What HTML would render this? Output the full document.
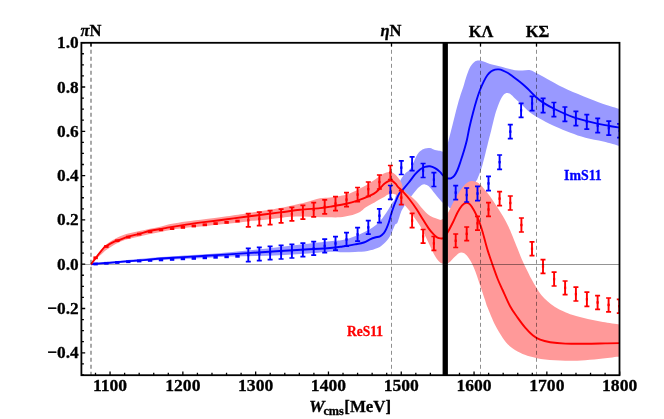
<!DOCTYPE html>
<html><head><meta charset="utf-8"><title>S11 partial wave</title>
<style>
html,body{margin:0;padding:0;background:#fff}
svg{display:block}
text{font-family:"Liberation Serif","DejaVu Serif",serif;font-weight:bold;stroke:#000;stroke-width:0.3px}
</style></head><body>
<svg width="664" height="419" viewBox="0 0 664 419">
<rect width="664" height="419" fill="#fff"/>
<defs><clipPath id="c"><rect x="81.40" y="42.80" width="538.10" height="332.40"/></clipPath></defs>
<g clip-path="url(#c)">
<path d="M90.75 264.00 C95.21 263.50 105.74 262.17 117.50 261.00 C129.26 259.83 146.80 258.13 161.30 257.00 C175.80 255.87 193.05 255.00 204.50 254.20 C215.95 253.40 221.58 252.95 230.00 252.20 C238.42 251.45 246.67 250.57 255.00 249.70 C263.33 248.83 271.67 247.95 280.00 247.00 C288.33 246.05 296.67 244.97 305.00 244.00 C313.33 243.03 323.75 241.87 330.00 241.20 C336.25 240.53 338.33 240.82 342.50 240.00 C346.67 239.18 350.83 237.87 355.00 236.30 C359.17 234.73 363.75 232.68 367.50 230.60 C371.25 228.52 374.78 226.18 377.50 223.80 C380.22 221.42 381.92 218.80 383.80 216.30 C385.68 213.80 387.35 211.10 388.80 208.80 C390.25 206.50 391.57 203.97 392.50 202.50 C393.43 201.03 393.65 201.75 394.40 200.00 C395.15 198.25 396.07 195.12 397.00 192.00 C397.93 188.88 398.67 184.33 400.00 181.30 C401.33 178.27 403.43 175.68 405.00 173.80 C406.57 171.92 408.15 171.47 409.40 170.00 C410.65 168.53 411.35 167.28 412.50 165.00 C413.65 162.72 415.05 158.58 416.30 156.30 C417.55 154.02 418.55 152.60 420.00 151.30 C421.45 150.00 423.33 149.03 425.00 148.50 C426.67 147.97 428.33 147.85 430.00 148.10 C431.67 148.35 433.33 149.55 435.00 150.00 C436.67 150.45 438.67 150.55 440.00 150.80 C441.33 151.05 442.00 151.97 443.00 151.50 C444.00 151.03 445.15 149.58 446.00 148.00 C446.85 146.42 447.02 145.83 448.10 142.00 C449.18 138.17 451.03 130.75 452.50 125.00 C453.97 119.25 455.57 112.50 456.90 107.50 C458.23 102.50 459.47 98.33 460.50 95.00 C461.53 91.67 462.03 90.83 463.10 87.50 C464.17 84.17 465.65 78.53 466.90 75.00 C468.15 71.47 469.35 68.48 470.60 66.30 C471.85 64.12 473.25 62.85 474.40 61.90 C475.55 60.95 476.47 60.82 477.50 60.60 C478.53 60.38 479.35 60.35 480.60 60.60 C481.85 60.85 483.43 61.53 485.00 62.10 C486.57 62.67 488.12 63.42 490.00 64.00 C491.88 64.58 494.22 65.12 496.30 65.60 C498.38 66.08 500.42 66.37 502.50 66.90 C504.58 67.43 506.72 68.23 508.80 68.80 C510.88 69.37 512.72 70.00 515.00 70.30 C517.28 70.60 519.95 70.60 522.50 70.60 C525.05 70.60 527.75 69.77 530.30 70.30 C532.85 70.83 534.83 72.27 537.80 73.80 C540.77 75.33 543.87 77.20 548.10 79.50 C552.33 81.80 557.35 84.80 563.20 87.60 C569.05 90.40 576.52 93.58 583.20 96.30 C589.88 99.02 597.20 101.80 603.30 103.90 C609.40 106.00 617.05 108.07 619.80 108.90 L619.80 146.00 C617.05 145.25 609.03 142.88 603.30 141.50 C597.57 140.12 590.88 139.17 585.40 137.70 C579.92 136.23 575.42 134.57 570.40 132.70 C565.38 130.83 559.90 128.58 555.30 126.50 C550.70 124.42 546.97 122.50 542.80 120.20 C538.63 117.90 534.10 115.55 530.30 112.70 C526.50 109.85 522.55 105.47 520.00 103.10 C517.45 100.73 516.67 100.05 515.00 98.50 C513.33 96.95 511.45 94.70 510.00 93.80 C508.55 92.90 507.55 92.68 506.30 93.10 C505.05 93.52 503.75 94.52 502.50 96.30 C501.25 98.08 500.05 100.68 498.80 103.80 C497.55 106.92 496.25 110.63 495.00 115.00 C493.75 119.37 492.45 125.42 491.30 130.00 C490.15 134.58 489.25 137.92 488.10 142.50 C486.95 147.08 485.53 153.12 484.40 157.50 C483.27 161.88 482.45 165.25 481.30 168.80 C480.15 172.35 478.45 176.60 477.50 178.80 C476.55 181.00 477.68 178.47 475.60 182.00 C473.52 185.53 468.93 195.67 465.00 200.00 C461.07 204.33 454.83 207.00 452.00 208.00 C449.17 209.00 449.17 206.83 448.00 206.00 C446.83 205.17 446.02 203.68 445.00 203.00 C443.98 202.32 443.57 203.43 441.90 201.90 C440.23 200.37 437.18 196.40 435.00 193.80 C432.82 191.20 430.47 187.87 428.80 186.30 C427.13 184.73 426.25 184.57 425.00 184.40 C423.75 184.23 422.75 184.37 421.30 185.30 C419.85 186.23 417.87 188.28 416.30 190.00 C414.73 191.72 413.28 193.93 411.90 195.60 C410.52 197.27 409.35 198.12 408.00 200.00 C406.65 201.88 404.92 205.02 403.80 206.90 C402.68 208.78 402.35 208.70 401.30 211.30 C400.25 213.90 398.55 220.22 397.50 222.50 C396.45 224.78 396.25 222.70 395.00 225.00 C393.75 227.30 391.87 233.17 390.00 236.30 C388.13 239.43 385.88 241.83 383.80 243.80 C381.72 245.77 380.22 246.90 377.50 248.10 C374.78 249.30 371.25 250.35 367.50 251.00 C363.75 251.65 359.17 251.78 355.00 252.00 C350.83 252.22 346.67 252.33 342.50 252.30 C338.33 252.27 336.25 251.55 330.00 251.80 C323.75 252.05 313.33 253.22 305.00 253.80 C296.67 254.38 288.33 254.93 280.00 255.30 C271.67 255.67 263.33 255.78 255.00 256.00 C246.67 256.22 238.42 256.27 230.00 256.60 C221.58 256.93 215.95 257.43 204.50 258.00 C193.05 258.57 175.80 259.17 161.30 260.00 C146.80 260.83 129.26 262.25 117.50 263.00 C105.74 263.75 95.21 264.25 90.75 264.50 Z" fill="#9999ff"/>
<path d="M91.00 263.80 C91.77 262.67 94.10 259.04 95.60 257.04 C97.10 255.04 98.12 253.97 100.00 251.81 C101.88 249.65 103.98 246.48 106.90 244.10 C109.82 241.72 113.95 239.25 117.50 237.50 C121.05 235.75 124.55 234.67 128.20 233.60 C131.85 232.53 135.77 231.92 139.40 231.10 C143.03 230.28 146.35 229.49 150.00 228.70 C153.65 227.91 157.63 227.19 161.30 226.38 C164.97 225.57 167.88 224.66 172.00 223.85 C176.12 223.04 180.33 222.32 186.00 221.52 C191.67 220.72 199.17 219.92 206.00 219.04 C212.83 218.16 220.08 217.21 227.00 216.23 C233.92 215.25 242.83 213.84 247.50 213.14 C252.17 212.44 249.58 212.86 255.00 212.00 C260.42 211.14 271.67 209.58 280.00 208.00 C288.33 206.42 298.33 204.12 305.00 202.50 C311.67 200.88 315.83 199.15 320.00 198.30 C324.17 197.45 327.00 197.75 330.00 197.40 C333.00 197.05 335.25 196.68 338.00 196.20 C340.75 195.72 343.25 195.55 346.50 194.50 C349.75 193.45 353.82 191.68 357.50 189.90 C361.18 188.12 365.85 185.40 368.60 183.80 C371.35 182.20 372.22 181.50 374.00 180.30 C375.78 179.10 377.67 177.72 379.30 176.60 C380.93 175.48 382.22 174.37 383.80 173.60 C385.38 172.83 387.35 172.17 388.80 172.00 C390.25 171.83 391.05 171.78 392.50 172.60 C393.95 173.42 396.03 175.25 397.50 176.90 C398.97 178.55 400.25 180.32 401.30 182.50 C402.35 184.68 402.35 187.82 403.80 190.00 C405.25 192.18 407.92 193.72 410.00 195.60 C412.08 197.48 414.22 199.10 416.30 201.30 C418.38 203.50 420.42 206.52 422.50 208.80 C424.58 211.08 426.72 213.45 428.80 215.00 C430.88 216.55 432.82 217.33 435.00 218.10 C437.18 218.87 439.72 220.53 441.90 219.60 C444.08 218.67 446.33 215.13 448.10 212.50 C449.87 209.87 450.93 206.72 452.50 203.80 C454.07 200.88 455.83 197.72 457.50 195.00 C459.17 192.28 460.83 189.58 462.50 187.50 C464.17 185.42 465.83 183.58 467.50 182.50 C469.17 181.42 470.83 181.00 472.50 181.00 C474.17 181.00 475.83 181.52 477.50 182.50 C479.17 183.48 480.83 185.13 482.50 186.90 C484.17 188.67 485.83 190.92 487.50 193.10 C489.17 195.28 490.83 197.60 492.50 200.00 C494.17 202.40 495.83 204.92 497.50 207.50 C499.17 210.08 500.93 212.83 502.50 215.50 C504.07 218.17 505.65 221.08 506.90 223.50 C508.15 225.92 509.03 227.83 510.00 230.00 C510.97 232.17 511.45 233.42 512.70 236.50 C513.95 239.58 515.97 244.67 517.50 248.50 C519.03 252.33 520.33 255.92 521.90 259.50 C523.47 263.08 525.33 266.78 526.90 270.00 C528.47 273.22 529.73 275.88 531.30 278.80 C532.87 281.72 534.63 284.80 536.30 287.50 C537.97 290.20 539.43 292.70 541.30 295.00 C543.17 297.30 545.22 299.32 547.50 301.30 C549.78 303.28 552.28 305.20 555.00 306.90 C557.72 308.60 560.83 310.13 563.80 311.50 C566.77 312.87 568.80 313.87 572.80 315.10 C576.80 316.33 582.78 317.77 587.80 318.90 C592.82 320.03 597.60 320.98 602.90 321.90 C608.20 322.82 616.82 323.98 619.60 324.40 L619.60 356.50 C616.82 356.83 608.62 357.88 602.90 358.50 C597.18 359.12 591.57 359.83 585.30 360.20 C579.03 360.57 571.98 360.82 565.30 360.70 C558.62 360.58 551.05 360.20 545.20 359.50 C539.35 358.80 534.37 357.63 530.20 356.50 C526.03 355.37 523.55 354.38 520.20 352.70 C516.85 351.02 513.03 348.90 510.10 346.40 C507.17 343.90 505.10 341.25 502.60 337.70 C500.10 334.15 497.60 330.12 495.10 325.10 C492.60 320.08 489.27 311.73 487.60 307.60 C485.93 303.47 486.35 304.03 485.10 300.30 C483.85 296.57 481.97 290.63 480.10 285.20 C478.23 279.77 475.98 272.50 473.90 267.70 C471.82 262.90 469.70 258.92 467.60 256.40 C465.50 253.88 463.38 252.60 461.30 252.60 C459.22 252.60 457.18 254.72 455.10 256.40 C453.02 258.08 450.90 261.50 448.80 262.70 C446.70 263.90 444.17 263.83 442.50 263.60 C440.83 263.37 440.05 262.57 438.80 261.30 C437.55 260.03 436.30 258.22 435.00 256.00 C433.70 253.78 432.33 250.75 431.00 248.00 C429.67 245.25 428.33 242.25 427.00 239.50 C425.67 236.75 424.25 233.92 423.00 231.50 C421.75 229.08 420.83 227.17 419.50 225.00 C418.17 222.83 416.58 220.75 415.00 218.50 C413.42 216.25 411.87 213.92 410.00 211.50 C408.13 209.08 405.47 205.92 403.80 204.00 C402.13 202.08 401.25 201.47 400.00 200.00 C398.75 198.53 397.30 196.18 396.30 195.20 C395.30 194.22 394.83 194.33 394.00 194.10 C393.17 193.87 392.30 193.72 391.30 193.80 C390.30 193.88 389.05 194.17 388.00 194.60 C386.95 195.03 386.20 195.72 385.00 196.40 C383.80 197.08 382.88 197.50 380.80 198.70 C378.72 199.90 375.05 202.13 372.50 203.60 C369.95 205.07 367.58 206.12 365.50 207.50 C363.42 208.88 362.58 210.55 360.00 211.90 C357.42 213.25 353.33 214.70 350.00 215.60 C346.67 216.50 343.75 217.02 340.00 217.30 C336.25 217.58 331.67 217.37 327.50 217.30 C323.33 217.23 319.17 217.05 315.00 216.90 C310.83 216.75 306.67 216.42 302.50 216.40 C298.33 216.38 293.75 216.53 290.00 216.80 C286.25 217.07 283.33 217.60 280.00 218.00 C276.67 218.40 273.33 218.83 270.00 219.20 C266.67 219.57 263.75 219.82 260.00 220.20 C256.25 220.57 253.00 220.84 247.50 221.45 C242.00 222.06 233.92 223.12 227.00 223.87 C220.08 224.62 212.83 225.32 206.00 225.97 C199.17 226.62 191.67 227.18 186.00 227.79 C180.33 228.40 176.12 228.98 172.00 229.65 C167.88 230.32 164.97 231.08 161.30 231.82 C157.63 232.56 153.65 233.32 150.00 234.10 C146.35 234.88 143.03 235.68 139.40 236.50 C135.77 237.32 131.85 237.93 128.20 239.00 C124.55 240.07 121.05 241.15 117.50 242.90 C113.95 244.65 109.82 247.38 106.90 249.50 C103.98 251.62 101.88 253.92 100.00 255.61 C98.12 257.31 97.10 258.07 95.60 259.67 C94.10 261.27 91.77 264.28 91.00 265.20 Z" fill="#ff9999"/>
<line x1="81.4" x2="445" y1="264.5" y2="264.5" stroke="#a8a8a8" stroke-width="1"/>
<path d="M91.00 264.40 C91.75 264.30 91.08 264.18 95.50 263.80 C99.92 263.42 110.08 262.67 117.50 262.10 C124.92 261.53 132.08 261.03 140.00 260.40 C147.92 259.77 154.00 259.07 165.00 258.30 C176.00 257.53 192.25 256.67 206.00 255.80 C219.75 254.93 235.17 253.90 247.50 253.10 C259.83 252.30 270.42 251.60 280.00 251.00 C289.58 250.40 296.67 250.00 305.00 249.50 C313.33 249.00 323.75 248.50 330.00 248.00 C336.25 247.50 338.33 247.10 342.50 246.50 C346.67 245.90 351.45 245.07 355.00 244.40 C358.55 243.73 361.30 243.33 363.80 242.50 C366.30 241.67 368.13 240.23 370.00 239.40 C371.87 238.57 373.33 238.02 375.00 237.50 C376.67 236.98 378.53 237.03 380.00 236.30 C381.47 235.57 382.75 234.35 383.80 233.10 C384.85 231.85 385.47 230.57 386.30 228.80 C387.13 227.03 387.97 225.00 388.80 222.50 C389.63 220.00 390.47 216.50 391.30 213.80 C392.13 211.10 392.97 208.60 393.80 206.30 C394.63 204.00 395.43 202.05 396.30 200.00 C397.17 197.95 397.97 195.67 399.00 194.00 C400.03 192.33 400.87 191.92 402.50 190.00 C404.13 188.08 406.72 185.10 408.80 182.50 C410.88 179.90 413.13 176.58 415.00 174.40 C416.87 172.22 418.33 170.65 420.00 169.40 C421.67 168.15 423.33 167.42 425.00 166.90 C426.67 166.38 428.33 166.10 430.00 166.30 C431.67 166.50 433.33 167.17 435.00 168.10 C436.67 169.03 438.72 170.73 440.00 171.90 C441.28 173.07 441.70 174.12 442.70 175.10 C443.70 176.08 444.98 177.23 446.00 177.80 C447.02 178.37 447.92 178.45 448.80 178.50 C449.68 178.55 450.37 178.58 451.30 178.10 C452.23 177.62 453.37 176.95 454.40 175.60 C455.43 174.25 456.47 172.38 457.50 170.00 C458.53 167.62 459.55 164.42 460.60 161.30 C461.65 158.18 462.75 154.85 463.80 151.30 C464.85 147.75 465.97 143.97 466.90 140.00 C467.83 136.03 468.37 132.08 469.40 127.50 C470.43 122.92 471.90 117.08 473.10 112.50 C474.30 107.92 475.45 103.75 476.60 100.00 C477.75 96.25 478.80 93.12 480.00 90.00 C481.20 86.88 482.55 83.80 483.80 81.30 C485.05 78.80 486.25 76.67 487.50 75.00 C488.75 73.33 490.05 72.20 491.30 71.30 C492.55 70.40 493.75 69.92 495.00 69.60 C496.25 69.28 497.55 69.28 498.80 69.40 C500.05 69.52 501.05 69.73 502.50 70.30 C503.95 70.87 505.83 71.80 507.50 72.80 C509.17 73.80 510.83 75.10 512.50 76.30 C514.17 77.50 515.83 78.72 517.50 80.00 C519.17 81.28 520.75 82.50 522.50 84.00 C524.25 85.50 525.87 86.93 528.00 89.00 C530.13 91.07 532.78 94.13 535.30 96.40 C537.82 98.67 539.72 100.42 543.10 102.60 C546.48 104.78 550.58 107.08 555.60 109.50 C560.62 111.92 566.93 114.90 573.20 117.10 C579.47 119.30 587.35 121.27 593.20 122.70 C599.05 124.13 603.87 124.87 608.30 125.70 C612.73 126.53 617.88 127.37 619.80 127.70" fill="none" stroke="#0000ff" stroke-width="1.9"/>
<path d="M91.00 264.40 C91.77 263.35 93.33 261.02 95.60 258.10 C97.87 255.18 102.72 248.98 104.60 246.90 C106.48 244.82 105.12 246.57 106.90 245.60 C108.68 244.63 113.53 241.92 115.30 241.10 C117.07 240.28 115.35 241.43 117.50 240.70 C119.65 239.97 124.55 237.85 128.20 236.70 C131.85 235.55 135.77 234.78 139.40 233.80 C143.03 232.82 146.35 231.62 150.00 230.80 C153.65 229.98 158.38 229.43 161.30 228.90 C164.22 228.37 163.38 228.32 167.50 227.60 C171.62 226.88 179.58 225.55 186.00 224.60 C192.42 223.65 199.17 222.78 206.00 221.90 C212.83 221.02 220.08 220.20 227.00 219.30 C233.92 218.40 238.67 217.65 247.50 216.50 C256.33 215.35 271.25 213.52 280.00 212.40 C288.75 211.28 293.33 210.52 300.00 209.80 C306.67 209.08 314.58 208.68 320.00 208.10 C325.42 207.52 328.33 206.98 332.50 206.30 C336.67 205.62 340.83 204.95 345.00 204.00 C349.17 203.05 353.33 202.00 357.50 200.60 C361.67 199.20 366.87 197.05 370.00 195.60 C373.13 194.15 374.22 193.57 376.30 191.90 C378.38 190.23 381.05 187.03 382.50 185.60 C383.95 184.17 384.08 184.02 385.00 183.30 C385.92 182.58 387.08 181.75 388.00 181.30 C388.92 180.85 389.67 180.58 390.50 180.60 C391.33 180.62 392.08 180.80 393.00 181.40 C393.92 182.00 395.25 183.38 396.00 184.20 C396.75 185.02 396.20 184.88 397.50 186.30 C398.80 187.72 401.72 190.42 403.80 192.70 C405.88 194.98 407.92 197.32 410.00 200.00 C412.08 202.68 414.22 205.67 416.30 208.80 C418.38 211.93 420.42 215.50 422.50 218.80 C424.58 222.10 426.90 225.97 428.80 228.60 C430.70 231.23 432.45 233.10 433.90 234.60 C435.35 236.10 436.40 236.97 437.50 237.60 C438.60 238.23 439.50 238.33 440.50 238.40 C441.50 238.47 442.33 238.97 443.50 238.00 C444.67 237.03 445.90 235.27 447.50 232.60 C449.10 229.93 451.43 225.35 453.10 222.00 C454.77 218.65 456.03 215.23 457.50 212.50 C458.97 209.77 460.43 207.22 461.90 205.60 C463.37 203.98 464.95 203.00 466.30 202.80 C467.65 202.60 468.75 203.20 470.00 204.40 C471.25 205.60 472.55 207.82 473.80 210.00 C475.05 212.18 476.57 215.50 477.50 217.50 C478.43 219.50 478.55 219.58 479.40 222.00 C480.25 224.42 481.23 227.32 482.60 232.00 C483.97 236.68 485.92 244.57 487.60 250.10 C489.28 255.63 491.02 260.38 492.70 265.20 C494.38 270.02 496.05 274.87 497.70 279.00 C499.35 283.13 500.53 285.45 502.60 290.00 C504.67 294.55 507.60 301.70 510.10 306.30 C512.60 310.90 515.08 314.05 517.60 317.60 C520.12 321.15 522.68 324.67 525.20 327.60 C527.72 330.53 530.20 333.18 532.70 335.20 C535.20 337.22 537.28 338.53 540.20 339.70 C543.12 340.87 546.02 341.55 550.20 342.20 C554.38 342.85 559.45 343.33 565.30 343.60 C571.15 343.87 578.62 343.83 585.30 343.80 C591.98 343.77 599.68 343.52 605.40 343.40 C611.12 343.28 617.23 343.15 619.60 343.10" fill="none" stroke="#ff0000" stroke-width="1.9"/>
<rect x="93.40" y="262.60" width="4.4" height="2.8" fill="#0000ff"/>
<rect x="104.20" y="261.90" width="4.4" height="2.8" fill="#0000ff"/>
<rect x="115.10" y="261.10" width="4.4" height="2.8" fill="#0000ff"/>
<rect x="126.10" y="260.30" width="4.4" height="2.8" fill="#0000ff"/>
<rect x="137.00" y="259.60" width="4.4" height="2.8" fill="#0000ff"/>
<rect x="147.90" y="259.00" width="4.4" height="2.8" fill="#0000ff"/>
<rect x="158.80" y="258.50" width="4.4" height="2.8" fill="#0000ff"/>
<rect x="169.90" y="258.00" width="4.4" height="2.8" fill="#0000ff"/>
<rect x="180.70" y="257.40" width="4.4" height="2.8" fill="#0000ff"/>
<rect x="191.60" y="257.00" width="4.4" height="2.8" fill="#0000ff"/>
<rect x="202.60" y="256.40" width="4.4" height="2.8" fill="#0000ff"/>
<rect x="213.40" y="255.90" width="4.4" height="2.8" fill="#0000ff"/>
<rect x="224.40" y="255.40" width="4.4" height="2.8" fill="#0000ff"/>
<rect x="235.30" y="254.90" width="4.4" height="2.8" fill="#0000ff"/>
<rect x="93.40" y="256.40" width="4.4" height="2.8" fill="#ff0000"/>
<rect x="104.20" y="245.10" width="4.4" height="2.8" fill="#ff0000"/>
<rect x="115.10" y="239.30" width="4.4" height="2.8" fill="#ff0000"/>
<rect x="126.10" y="235.70" width="4.4" height="2.8" fill="#ff0000"/>
<rect x="137.00" y="232.70" width="4.4" height="2.8" fill="#ff0000"/>
<rect x="147.90" y="230.30" width="4.4" height="2.8" fill="#ff0000"/>
<rect x="158.80" y="228.40" width="4.4" height="2.8" fill="#ff0000"/>
<rect x="169.90" y="227.20" width="4.4" height="2.8" fill="#ff0000"/>
<rect x="180.70" y="226.00" width="4.4" height="2.8" fill="#ff0000"/>
<rect x="191.60" y="224.60" width="4.4" height="2.8" fill="#ff0000"/>
<rect x="202.60" y="223.40" width="4.4" height="2.8" fill="#ff0000"/>
<rect x="213.40" y="222.20" width="4.4" height="2.8" fill="#ff0000"/>
<rect x="224.40" y="221.00" width="4.4" height="2.8" fill="#ff0000"/>
<rect x="235.30" y="219.70" width="4.4" height="2.8" fill="#ff0000"/>
<path d="M248.30 248.40V261.70" stroke="#0000ff" stroke-width="1.9" fill="none"/><path d="M245.80 248.40h5M245.80 261.70h5" stroke="#0000ff" stroke-width="1.7" fill="none"/><rect x="247.20" y="253.85" width="2.2" height="2.4" fill="#0000ff"/>
<path d="M259.30 247.40V260.70" stroke="#0000ff" stroke-width="1.9" fill="none"/><path d="M256.80 247.40h5M256.80 260.70h5" stroke="#0000ff" stroke-width="1.7" fill="none"/><rect x="258.20" y="252.85" width="2.2" height="2.4" fill="#0000ff"/>
<path d="M270.10 246.40V259.70" stroke="#0000ff" stroke-width="1.9" fill="none"/><path d="M267.60 246.40h5M267.60 259.70h5" stroke="#0000ff" stroke-width="1.7" fill="none"/><rect x="269.00" y="251.85" width="2.2" height="2.4" fill="#0000ff"/>
<path d="M281.10 245.40V259.00" stroke="#0000ff" stroke-width="1.9" fill="none"/><path d="M278.60 245.40h5M278.60 259.00h5" stroke="#0000ff" stroke-width="1.7" fill="none"/><rect x="280.00" y="251.00" width="2.2" height="2.4" fill="#0000ff"/>
<path d="M291.90 244.40V258.00" stroke="#0000ff" stroke-width="1.9" fill="none"/><path d="M289.40 244.40h5M289.40 258.00h5" stroke="#0000ff" stroke-width="1.7" fill="none"/><rect x="290.80" y="250.00" width="2.2" height="2.4" fill="#0000ff"/>
<path d="M302.90 243.20V256.70" stroke="#0000ff" stroke-width="1.9" fill="none"/><path d="M300.40 243.20h5M300.40 256.70h5" stroke="#0000ff" stroke-width="1.7" fill="none"/><rect x="301.80" y="248.75" width="2.2" height="2.4" fill="#0000ff"/>
<path d="M313.70 241.70V255.20" stroke="#0000ff" stroke-width="1.9" fill="none"/><path d="M311.20 241.70h5M311.20 255.20h5" stroke="#0000ff" stroke-width="1.7" fill="none"/><rect x="312.60" y="247.25" width="2.2" height="2.4" fill="#0000ff"/>
<path d="M324.70 239.20V252.70" stroke="#0000ff" stroke-width="1.9" fill="none"/><path d="M322.20 239.20h5M322.20 252.70h5" stroke="#0000ff" stroke-width="1.7" fill="none"/><rect x="323.60" y="244.75" width="2.2" height="2.4" fill="#0000ff"/>
<path d="M335.50 236.70V250.20" stroke="#0000ff" stroke-width="1.9" fill="none"/><path d="M333.00 236.70h5M333.00 250.20h5" stroke="#0000ff" stroke-width="1.7" fill="none"/><rect x="334.40" y="242.25" width="2.2" height="2.4" fill="#0000ff"/>
<path d="M346.50 232.70V246.20" stroke="#0000ff" stroke-width="1.9" fill="none"/><path d="M344.00 232.70h5M344.00 246.20h5" stroke="#0000ff" stroke-width="1.7" fill="none"/><rect x="345.40" y="238.25" width="2.2" height="2.4" fill="#0000ff"/>
<path d="M357.60 227.60V241.20" stroke="#0000ff" stroke-width="1.9" fill="none"/><path d="M355.10 227.60h5M355.10 241.20h5" stroke="#0000ff" stroke-width="1.7" fill="none"/><rect x="356.50" y="233.20" width="2.2" height="2.4" fill="#0000ff"/>
<path d="M368.30 220.60V234.20" stroke="#0000ff" stroke-width="1.9" fill="none"/><path d="M365.80 220.60h5M365.80 234.20h5" stroke="#0000ff" stroke-width="1.7" fill="none"/><rect x="367.20" y="226.20" width="2.2" height="2.4" fill="#0000ff"/>
<path d="M379.40 208.80V222.60" stroke="#0000ff" stroke-width="1.9" fill="none"/><path d="M376.90 208.80h5M376.90 222.60h5" stroke="#0000ff" stroke-width="1.7" fill="none"/><rect x="378.30" y="214.50" width="2.2" height="2.4" fill="#0000ff"/>
<path d="M390.40 185.50V199.30" stroke="#0000ff" stroke-width="1.9" fill="none"/><path d="M387.90 185.50h5M387.90 199.30h5" stroke="#0000ff" stroke-width="1.7" fill="none"/><rect x="389.30" y="191.20" width="2.2" height="2.4" fill="#0000ff"/>
<path d="M401.30 160.80V174.50" stroke="#0000ff" stroke-width="1.9" fill="none"/><path d="M398.80 160.80h5M398.80 174.50h5" stroke="#0000ff" stroke-width="1.7" fill="none"/><rect x="400.20" y="166.45" width="2.2" height="2.4" fill="#0000ff"/>
<path d="M412.10 156.80V170.60" stroke="#0000ff" stroke-width="1.9" fill="none"/><path d="M409.60 156.80h5M409.60 170.60h5" stroke="#0000ff" stroke-width="1.7" fill="none"/><rect x="411.00" y="162.50" width="2.2" height="2.4" fill="#0000ff"/>
<path d="M423.10 163.50V177.50" stroke="#0000ff" stroke-width="1.9" fill="none"/><path d="M420.60 163.50h5M420.60 177.50h5" stroke="#0000ff" stroke-width="1.7" fill="none"/><rect x="422.00" y="169.30" width="2.2" height="2.4" fill="#0000ff"/>
<path d="M433.90 172.70V186.50" stroke="#0000ff" stroke-width="1.9" fill="none"/><path d="M431.40 172.70h5M431.40 186.50h5" stroke="#0000ff" stroke-width="1.7" fill="none"/><rect x="432.80" y="178.40" width="2.2" height="2.4" fill="#0000ff"/>
<path d="M455.70 185.60V199.60" stroke="#0000ff" stroke-width="1.9" fill="none"/><path d="M453.20 185.60h5M453.20 199.60h5" stroke="#0000ff" stroke-width="1.7" fill="none"/><rect x="454.60" y="191.40" width="2.2" height="2.4" fill="#0000ff"/>
<path d="M466.70 188.00V202.00" stroke="#0000ff" stroke-width="1.9" fill="none"/><path d="M464.20 188.00h5M464.20 202.00h5" stroke="#0000ff" stroke-width="1.7" fill="none"/><rect x="465.60" y="193.80" width="2.2" height="2.4" fill="#0000ff"/>
<path d="M477.50 186.40V200.60" stroke="#0000ff" stroke-width="1.9" fill="none"/><path d="M475.00 186.40h5M475.00 200.60h5" stroke="#0000ff" stroke-width="1.7" fill="none"/><rect x="476.40" y="192.30" width="2.2" height="2.4" fill="#0000ff"/>
<path d="M488.50 176.30V190.60" stroke="#0000ff" stroke-width="1.9" fill="none"/><path d="M486.00 176.30h5M486.00 190.60h5" stroke="#0000ff" stroke-width="1.7" fill="none"/><rect x="487.40" y="182.25" width="2.2" height="2.4" fill="#0000ff"/>
<path d="M499.60 155.00V169.30" stroke="#0000ff" stroke-width="1.9" fill="none"/><path d="M497.10 155.00h5M497.10 169.30h5" stroke="#0000ff" stroke-width="1.7" fill="none"/><rect x="498.50" y="160.95" width="2.2" height="2.4" fill="#0000ff"/>
<path d="M510.30 124.70V138.60" stroke="#0000ff" stroke-width="1.9" fill="none"/><path d="M507.80 124.70h5M507.80 138.60h5" stroke="#0000ff" stroke-width="1.7" fill="none"/><rect x="509.20" y="130.45" width="2.2" height="2.4" fill="#0000ff"/>
<path d="M521.10 103.30V117.30" stroke="#0000ff" stroke-width="1.9" fill="none"/><path d="M518.60 103.30h5M518.60 117.30h5" stroke="#0000ff" stroke-width="1.7" fill="none"/><rect x="520.00" y="109.10" width="2.2" height="2.4" fill="#0000ff"/>
<path d="M532.10 96.30V110.60" stroke="#0000ff" stroke-width="1.9" fill="none"/><path d="M529.60 96.30h5M529.60 110.60h5" stroke="#0000ff" stroke-width="1.7" fill="none"/><rect x="531.00" y="102.25" width="2.2" height="2.4" fill="#0000ff"/>
<path d="M543.10 98.30V112.60" stroke="#0000ff" stroke-width="1.9" fill="none"/><path d="M540.60 98.30h5M540.60 112.60h5" stroke="#0000ff" stroke-width="1.7" fill="none"/><rect x="542.00" y="104.25" width="2.2" height="2.4" fill="#0000ff"/>
<path d="M553.90 102.50V116.70" stroke="#0000ff" stroke-width="1.9" fill="none"/><path d="M551.40 102.50h5M551.40 116.70h5" stroke="#0000ff" stroke-width="1.7" fill="none"/><rect x="552.80" y="108.40" width="2.2" height="2.4" fill="#0000ff"/>
<path d="M564.90 107.00V121.30" stroke="#0000ff" stroke-width="1.9" fill="none"/><path d="M562.40 107.00h5M562.40 121.30h5" stroke="#0000ff" stroke-width="1.7" fill="none"/><rect x="563.80" y="112.95" width="2.2" height="2.4" fill="#0000ff"/>
<path d="M575.90 111.30V125.60" stroke="#0000ff" stroke-width="1.9" fill="none"/><path d="M573.40 111.30h5M573.40 125.60h5" stroke="#0000ff" stroke-width="1.7" fill="none"/><rect x="574.80" y="117.25" width="2.2" height="2.4" fill="#0000ff"/>
<path d="M586.80 114.60V129.10" stroke="#0000ff" stroke-width="1.9" fill="none"/><path d="M584.30 114.60h5M584.30 129.10h5" stroke="#0000ff" stroke-width="1.7" fill="none"/><rect x="585.70" y="120.65" width="2.2" height="2.4" fill="#0000ff"/>
<path d="M597.70 118.40V132.70" stroke="#0000ff" stroke-width="1.9" fill="none"/><path d="M595.20 118.40h5M595.20 132.70h5" stroke="#0000ff" stroke-width="1.7" fill="none"/><rect x="596.60" y="124.35" width="2.2" height="2.4" fill="#0000ff"/>
<path d="M608.80 121.20V135.20" stroke="#0000ff" stroke-width="1.9" fill="none"/><path d="M606.30 121.20h5M606.30 135.20h5" stroke="#0000ff" stroke-width="1.7" fill="none"/><rect x="607.70" y="127.00" width="2.2" height="2.4" fill="#0000ff"/>
<path d="M619.60 123.90V137.70" stroke="#0000ff" stroke-width="1.9" fill="none"/><path d="M617.10 123.90h5M617.10 137.70h5" stroke="#0000ff" stroke-width="1.7" fill="none"/><rect x="618.50" y="129.60" width="2.2" height="2.4" fill="#0000ff"/>
<path d="M248.30 213.60V226.90" stroke="#ff0000" stroke-width="1.9" fill="none"/><path d="M245.80 213.60h5M245.80 226.90h5" stroke="#ff0000" stroke-width="1.7" fill="none"/><rect x="247.20" y="219.05" width="2.2" height="2.4" fill="#ff0000"/>
<path d="M259.30 212.10V225.60" stroke="#ff0000" stroke-width="1.9" fill="none"/><path d="M256.80 212.10h5M256.80 225.60h5" stroke="#ff0000" stroke-width="1.7" fill="none"/><rect x="258.20" y="217.65" width="2.2" height="2.4" fill="#ff0000"/>
<path d="M270.10 210.60V224.60" stroke="#ff0000" stroke-width="1.9" fill="none"/><path d="M267.60 210.60h5M267.60 224.60h5" stroke="#ff0000" stroke-width="1.7" fill="none"/><rect x="269.00" y="216.40" width="2.2" height="2.4" fill="#ff0000"/>
<path d="M281.10 209.10V222.90" stroke="#ff0000" stroke-width="1.9" fill="none"/><path d="M278.60 209.10h5M278.60 222.90h5" stroke="#ff0000" stroke-width="1.7" fill="none"/><rect x="280.00" y="214.80" width="2.2" height="2.4" fill="#ff0000"/>
<path d="M291.90 207.30V220.90" stroke="#ff0000" stroke-width="1.9" fill="none"/><path d="M289.40 207.30h5M289.40 220.90h5" stroke="#ff0000" stroke-width="1.7" fill="none"/><rect x="290.80" y="212.90" width="2.2" height="2.4" fill="#ff0000"/>
<path d="M302.90 205.30V219.10" stroke="#ff0000" stroke-width="1.9" fill="none"/><path d="M300.40 205.30h5M300.40 219.10h5" stroke="#ff0000" stroke-width="1.7" fill="none"/><rect x="301.80" y="211.00" width="2.2" height="2.4" fill="#ff0000"/>
<path d="M313.70 202.60V216.90" stroke="#ff0000" stroke-width="1.9" fill="none"/><path d="M311.20 202.60h5M311.20 216.90h5" stroke="#ff0000" stroke-width="1.7" fill="none"/><rect x="312.60" y="208.55" width="2.2" height="2.4" fill="#ff0000"/>
<path d="M324.70 199.80V213.90" stroke="#ff0000" stroke-width="1.9" fill="none"/><path d="M322.20 199.80h5M322.20 213.90h5" stroke="#ff0000" stroke-width="1.7" fill="none"/><rect x="323.60" y="205.65" width="2.2" height="2.4" fill="#ff0000"/>
<path d="M335.50 196.60V210.60" stroke="#ff0000" stroke-width="1.9" fill="none"/><path d="M333.00 196.60h5M333.00 210.60h5" stroke="#ff0000" stroke-width="1.7" fill="none"/><rect x="334.40" y="202.40" width="2.2" height="2.4" fill="#ff0000"/>
<path d="M346.50 192.60V206.60" stroke="#ff0000" stroke-width="1.9" fill="none"/><path d="M344.00 192.60h5M344.00 206.60h5" stroke="#ff0000" stroke-width="1.7" fill="none"/><rect x="345.40" y="198.40" width="2.2" height="2.4" fill="#ff0000"/>
<path d="M357.60 187.50V201.60" stroke="#ff0000" stroke-width="1.9" fill="none"/><path d="M355.10 187.50h5M355.10 201.60h5" stroke="#ff0000" stroke-width="1.7" fill="none"/><rect x="356.50" y="193.35" width="2.2" height="2.4" fill="#ff0000"/>
<path d="M368.30 182.00V196.30" stroke="#ff0000" stroke-width="1.9" fill="none"/><path d="M365.80 182.00h5M365.80 196.30h5" stroke="#ff0000" stroke-width="1.7" fill="none"/><rect x="367.20" y="187.95" width="2.2" height="2.4" fill="#ff0000"/>
<path d="M379.40 175.00V189.00" stroke="#ff0000" stroke-width="1.9" fill="none"/><path d="M376.90 175.00h5M376.90 189.00h5" stroke="#ff0000" stroke-width="1.7" fill="none"/><rect x="378.30" y="180.80" width="2.2" height="2.4" fill="#ff0000"/>
<path d="M390.40 165.50V179.60" stroke="#ff0000" stroke-width="1.9" fill="none"/><path d="M387.90 165.50h5M387.90 179.60h5" stroke="#ff0000" stroke-width="1.7" fill="none"/><rect x="389.30" y="171.35" width="2.2" height="2.4" fill="#ff0000"/>
<path d="M401.30 190.60V204.60" stroke="#ff0000" stroke-width="1.9" fill="none"/><path d="M398.80 190.60h5M398.80 204.60h5" stroke="#ff0000" stroke-width="1.7" fill="none"/><rect x="400.20" y="196.40" width="2.2" height="2.4" fill="#ff0000"/>
<path d="M412.10 213.40V227.70" stroke="#ff0000" stroke-width="1.9" fill="none"/><path d="M409.60 213.40h5M409.60 227.70h5" stroke="#ff0000" stroke-width="1.7" fill="none"/><rect x="411.00" y="219.35" width="2.2" height="2.4" fill="#ff0000"/>
<path d="M423.10 229.50V243.20" stroke="#ff0000" stroke-width="1.9" fill="none"/><path d="M420.60 229.50h5M420.60 243.20h5" stroke="#ff0000" stroke-width="1.7" fill="none"/><rect x="422.00" y="235.15" width="2.2" height="2.4" fill="#ff0000"/>
<path d="M433.90 236.50V250.30" stroke="#ff0000" stroke-width="1.9" fill="none"/><path d="M431.40 236.50h5M431.40 250.30h5" stroke="#ff0000" stroke-width="1.7" fill="none"/><rect x="432.80" y="242.20" width="2.2" height="2.4" fill="#ff0000"/>
<path d="M455.70 234.00V247.50" stroke="#ff0000" stroke-width="1.9" fill="none"/><path d="M453.20 234.00h5M453.20 247.50h5" stroke="#ff0000" stroke-width="1.7" fill="none"/><rect x="454.60" y="239.55" width="2.2" height="2.4" fill="#ff0000"/>
<path d="M466.70 227.00V240.70" stroke="#ff0000" stroke-width="1.9" fill="none"/><path d="M464.20 227.00h5M464.20 240.70h5" stroke="#ff0000" stroke-width="1.7" fill="none"/><rect x="465.60" y="232.65" width="2.2" height="2.4" fill="#ff0000"/>
<path d="M477.50 216.40V230.20" stroke="#ff0000" stroke-width="1.9" fill="none"/><path d="M475.00 216.40h5M475.00 230.20h5" stroke="#ff0000" stroke-width="1.7" fill="none"/><rect x="476.40" y="222.10" width="2.2" height="2.4" fill="#ff0000"/>
<path d="M488.50 202.60V216.40" stroke="#ff0000" stroke-width="1.9" fill="none"/><path d="M486.00 202.60h5M486.00 216.40h5" stroke="#ff0000" stroke-width="1.7" fill="none"/><rect x="487.40" y="208.30" width="2.2" height="2.4" fill="#ff0000"/>
<path d="M499.60 191.60V205.60" stroke="#ff0000" stroke-width="1.9" fill="none"/><path d="M497.10 191.60h5M497.10 205.60h5" stroke="#ff0000" stroke-width="1.7" fill="none"/><rect x="498.50" y="197.40" width="2.2" height="2.4" fill="#ff0000"/>
<path d="M510.30 196.00V210.00" stroke="#ff0000" stroke-width="1.9" fill="none"/><path d="M507.80 196.00h5M507.80 210.00h5" stroke="#ff0000" stroke-width="1.7" fill="none"/><rect x="509.20" y="201.80" width="2.2" height="2.4" fill="#ff0000"/>
<path d="M521.40 218.00V232.00" stroke="#ff0000" stroke-width="1.9" fill="none"/><path d="M518.90 218.00h5M518.90 232.00h5" stroke="#ff0000" stroke-width="1.7" fill="none"/><rect x="520.30" y="223.80" width="2.2" height="2.4" fill="#ff0000"/>
<path d="M532.00 241.90V255.60" stroke="#ff0000" stroke-width="1.9" fill="none"/><path d="M529.50 241.90h5M529.50 255.60h5" stroke="#ff0000" stroke-width="1.7" fill="none"/><rect x="530.90" y="247.55" width="2.2" height="2.4" fill="#ff0000"/>
<path d="M543.00 259.60V273.40" stroke="#ff0000" stroke-width="1.9" fill="none"/><path d="M540.50 259.60h5M540.50 273.40h5" stroke="#ff0000" stroke-width="1.7" fill="none"/><rect x="541.90" y="265.30" width="2.2" height="2.4" fill="#ff0000"/>
<path d="M554.10 272.20V286.00" stroke="#ff0000" stroke-width="1.9" fill="none"/><path d="M551.60 272.20h5M551.60 286.00h5" stroke="#ff0000" stroke-width="1.7" fill="none"/><rect x="553.00" y="277.90" width="2.2" height="2.4" fill="#ff0000"/>
<path d="M565.10 281.00V294.70" stroke="#ff0000" stroke-width="1.9" fill="none"/><path d="M562.60 281.00h5M562.60 294.70h5" stroke="#ff0000" stroke-width="1.7" fill="none"/><rect x="564.00" y="286.65" width="2.2" height="2.4" fill="#ff0000"/>
<path d="M575.90 287.20V301.00" stroke="#ff0000" stroke-width="1.9" fill="none"/><path d="M573.40 287.20h5M573.40 301.00h5" stroke="#ff0000" stroke-width="1.7" fill="none"/><rect x="574.80" y="292.90" width="2.2" height="2.4" fill="#ff0000"/>
<path d="M586.90 292.20V306.30" stroke="#ff0000" stroke-width="1.9" fill="none"/><path d="M584.40 292.20h5M584.40 306.30h5" stroke="#ff0000" stroke-width="1.7" fill="none"/><rect x="585.80" y="298.05" width="2.2" height="2.4" fill="#ff0000"/>
<path d="M597.60 295.60V309.30" stroke="#ff0000" stroke-width="1.9" fill="none"/><path d="M595.10 295.60h5M595.10 309.30h5" stroke="#ff0000" stroke-width="1.7" fill="none"/><rect x="596.50" y="301.25" width="2.2" height="2.4" fill="#ff0000"/>
<path d="M608.60 298.00V311.80" stroke="#ff0000" stroke-width="1.9" fill="none"/><path d="M606.10 298.00h5M606.10 311.80h5" stroke="#ff0000" stroke-width="1.7" fill="none"/><rect x="607.50" y="303.70" width="2.2" height="2.4" fill="#ff0000"/>
<path d="M619.30 299.30V313.10" stroke="#ff0000" stroke-width="1.9" fill="none"/><path d="M616.80 299.30h5M616.80 313.10h5" stroke="#ff0000" stroke-width="1.7" fill="none"/><rect x="618.20" y="305.00" width="2.2" height="2.4" fill="#ff0000"/>
<line x1="445" x2="619.5" y1="264.5" y2="264.5" stroke="#000" stroke-opacity="0.42" stroke-width="1"/>
<line x1="91.00" x2="91.00" y1="42.80" y2="375.20" stroke="#000" stroke-opacity="0.40" stroke-width="1.70" stroke-dasharray="4 3"/>
<line x1="391.50" x2="391.50" y1="42.80" y2="375.20" stroke="#000" stroke-opacity="0.52" stroke-width="0.85" stroke-dasharray="4 3"/>
<line x1="480.50" x2="480.50" y1="42.80" y2="375.20" stroke="#000" stroke-opacity="0.52" stroke-width="0.85" stroke-dasharray="4 3"/>
<line x1="536.50" x2="536.50" y1="42.80" y2="375.20" stroke="#000" stroke-opacity="0.52" stroke-width="0.85" stroke-dasharray="4 3"/>
<rect x="442.6" y="42.8" width="5.3" height="332.4" fill="#000"/>
</g>
<rect x="81.40" y="42.80" width="538.10" height="332.40" fill="none" stroke="#000" stroke-width="1.8"/>
<path d="M95.50 375.20v-2.50M110.06 375.20v-3.80M124.62 375.20v-2.50M139.18 375.20v-2.50M153.74 375.20v-2.50M168.30 375.20v-2.50M182.86 375.20v-3.80M197.42 375.20v-2.50M211.98 375.20v-2.50M226.54 375.20v-2.50M241.10 375.20v-2.50M255.66 375.20v-3.80M270.22 375.20v-2.50M284.78 375.20v-2.50M299.34 375.20v-2.50M313.90 375.20v-2.50M328.46 375.20v-3.80M343.02 375.20v-2.50M357.58 375.20v-2.50M372.14 375.20v-2.50M386.70 375.20v-2.50M401.26 375.20v-3.80M415.82 375.20v-2.50M430.38 375.20v-2.50M444.94 375.20v-2.50M459.50 375.20v-2.50M474.06 375.20v-3.80M488.62 375.20v-2.50M503.18 375.20v-2.50M517.74 375.20v-2.50M532.30 375.20v-2.50M546.86 375.20v-3.80M561.42 375.20v-2.50M575.98 375.20v-2.50M590.54 375.20v-2.50M605.10 375.20v-2.50M619.66 375.20v-3.80M81.40 374.95h2.50M81.40 363.88h2.50M81.40 352.80h3.80M81.40 341.72h2.50M81.40 330.65h2.50M81.40 319.57h2.50M81.40 308.50h3.80M81.40 297.42h2.50M81.40 286.35h2.50M81.40 275.27h2.50M81.40 264.20h3.80M81.40 253.12h2.50M81.40 242.05h2.50M81.40 230.97h2.50M81.40 219.90h3.80M81.40 208.82h2.50M81.40 197.75h2.50M81.40 186.67h2.50M81.40 175.60h3.80M81.40 164.52h2.50M81.40 153.45h2.50M81.40 142.38h2.50M81.40 131.30h3.80M81.40 120.22h2.50M81.40 109.15h2.50M81.40 98.07h2.50M81.40 87.00h3.80M81.40 75.92h2.50M81.40 64.85h2.50M81.40 53.77h2.50M81.40 42.70h3.80M91.00 42.80v3.6M391.50 42.80v3.6M480.50 42.80v3.6M536.50 42.80v3.6" stroke="#000" stroke-width="1.3" fill="none"/>
<text x="110.06" y="391" font-size="17.6" text-anchor="middle">1100</text>
<text x="182.86" y="391" font-size="17.6" text-anchor="middle">1200</text>
<text x="255.66" y="391" font-size="17.6" text-anchor="middle">1300</text>
<text x="328.46" y="391" font-size="17.6" text-anchor="middle">1400</text>
<text x="401.26" y="391" font-size="17.6" text-anchor="middle">1500</text>
<text x="474.06" y="391" font-size="17.6" text-anchor="middle">1600</text>
<text x="546.86" y="391" font-size="17.6" text-anchor="middle">1700</text>
<text x="619.66" y="391" font-size="17.6" text-anchor="middle">1800</text>
<text x="78.6" y="48.20" font-size="17.3" text-anchor="end">1.0</text>
<text x="78.6" y="92.50" font-size="17.3" text-anchor="end">0.8</text>
<text x="78.6" y="136.80" font-size="17.3" text-anchor="end">0.6</text>
<text x="78.6" y="181.10" font-size="17.3" text-anchor="end">0.4</text>
<text x="78.6" y="225.40" font-size="17.3" text-anchor="end">0.2</text>
<text x="78.6" y="269.70" font-size="17.3" text-anchor="end">0.0</text>
<text x="78.6" y="314.00" font-size="17.3" text-anchor="end">−0.2</text>
<text x="78.6" y="358.30" font-size="17.3" text-anchor="end">−0.4</text>
<text x="91" y="36.4" font-size="16.5" text-anchor="middle"><tspan font-style="italic">π</tspan>N</text>
<text x="391" y="35.5" font-size="16.5" text-anchor="middle"><tspan font-style="italic">η</tspan>N</text>
<text x="481" y="36.8" font-size="16.5" text-anchor="middle">KΛ</text>
<text x="537.5" y="36.8" font-size="16.5" text-anchor="middle">KΣ</text>
<text x="564.1" y="179.6" font-size="14.5" textLength="37.7" lengthAdjust="spacingAndGlyphs" fill="#0000ff" stroke="#0000ff" style="stroke:#0000ff">ImS11</text>
<text x="347.1" y="335.6" font-size="14.5" textLength="36" lengthAdjust="spacingAndGlyphs" fill="#ff0000" style="stroke:#ff0000">ReS11</text>
<text x="309.0" y="411.8" font-size="16.5" font-style="italic" textLength="15.6" lengthAdjust="spacingAndGlyphs">W</text>
<text x="323.4" y="414.8" font-size="12.3">cms</text>
<text x="344.3" y="411.8" font-size="16.5" textLength="46.8" lengthAdjust="spacingAndGlyphs">[MeV]</text>
</svg></body></html>
